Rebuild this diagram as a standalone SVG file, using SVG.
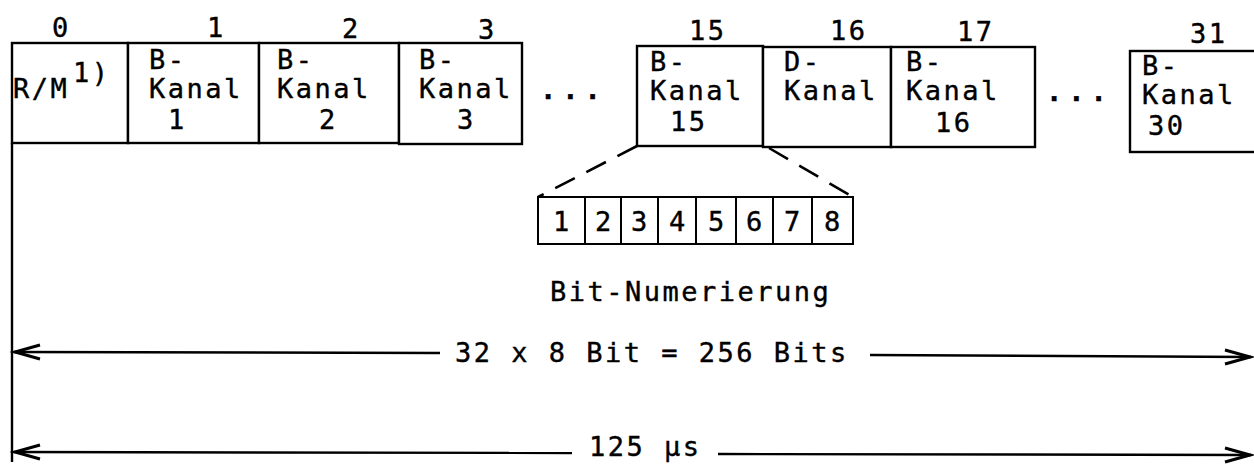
<svg xmlns="http://www.w3.org/2000/svg" width="1254" height="465" viewBox="0 0 1254 465">
<style>
text{font-family:"DejaVu Sans Mono","Liberation Mono",monospace;font-size:27px;letter-spacing:2.5px;fill:#000;stroke:#000;stroke-width:0.4}
.cell{fill:#fff;stroke:#000;stroke-width:2.4}
.bit{fill:#fff;stroke:#000;stroke-width:2}
.ln{fill:none;stroke:#000;stroke-width:2.4}
.dash{fill:none;stroke:#000;stroke-width:2.6;stroke-dasharray:22 13}
.head{fill:none;stroke:#000;stroke-width:3;stroke-linejoin:miter}
.dots{font-weight:bold;letter-spacing:6px}
</style>
<rect width="1254" height="465" fill="#fff"/>
<g id="labels">
<text x="52" y="37">0</text>
<text x="207" y="37">1</text>
<text x="342" y="38">2</text>
<text x="478" y="39">3</text>
<text x="689" y="40">15</text>
<text x="830" y="40">16</text>
<text x="957" y="41">17</text>
<text x="1190" y="43">31</text>
</g>
<g id="c0"><rect class="cell" x="12" y="43" width="116" height="100"/><text x="13" y="98">R/M</text><text x="73" y="82">1)</text></g>
<g id="c1"><rect class="cell" x="128" y="43" width="131" height="100"/><text x="149" y="69">B-</text><text x="149" y="98">Kanal</text><text x="168" y="129">1</text></g>
<g id="c2"><rect class="cell" x="259" y="43" width="140" height="100"/><text x="277" y="69">B-</text><text x="277" y="98">Kanal</text><text x="319" y="129">2</text></g>
<g id="c3"><rect class="cell" x="399" y="43" width="123" height="101"/><text x="419" y="69">B-</text><text x="419" y="98">Kanal</text><text x="457" y="129">3</text></g>
<g id="ell1"><text class="dots" x="540" y="99">...</text></g>
<g id="c15"><rect class="cell" x="637" y="46" width="126" height="100"/><text x="650" y="71">B-</text><text x="650" y="100">Kanal</text><text x="670" y="131">15</text></g>
<g id="c16"><rect class="cell" x="763" y="47" width="128" height="100"/><text x="784" y="71">D-</text><text x="784" y="100">Kanal</text></g>
<g id="c17"><rect class="cell" x="891" y="47" width="144" height="100"/><text x="906" y="71">B-</text><text x="906" y="100">Kanal</text><text x="935" y="132">16</text></g>
<g id="ell2"><text class="dots" x="1046" y="101">...</text></g>
<g id="c31"><rect class="cell" x="1130" y="51" width="140" height="101"/><text x="1142" y="75">B-</text><text x="1142" y="104">Kanal</text><text x="1148" y="135">30</text></g>
<g id="bits">
<rect class="bit" x="538" y="197" width="47" height="47"/><text x="553" y="231">1</text>
<rect class="bit" x="585" y="197" width="36" height="47"/><text x="595" y="231">2</text>
<rect class="bit" x="621" y="197" width="37" height="47"/><text x="631" y="231">3</text>
<rect class="bit" x="658" y="197" width="38" height="47"/><text x="669" y="231">4</text>
<rect class="bit" x="696" y="197" width="40" height="47"/><text x="708" y="231">5</text>
<rect class="bit" x="736" y="197" width="37" height="47"/><text x="746" y="231">6</text>
<rect class="bit" x="773" y="197" width="39" height="47"/><text x="784" y="231">7</text>
<rect class="bit" x="812" y="197" width="41" height="47"/><text x="824" y="231">8</text>
<text x="550" y="301">Bit-Numerierung</text>
</g>
<g id="connectors">
<path class="dash" d="M637,146 L538,197"/>
<path class="dash" d="M769,148 L853,197"/>
<path class="ln" d="M12,143 V462"/>
<path class="ln" d="M14,352 L440,353"/>
<path class="ln" d="M870,355 L1251,357"/>
<path class="head" d="M40,345 L15,352 L40,359"/>
<path class="head" d="M1225,350 L1250,357 L1225,364"/>
<path class="ln" d="M14,452 L572,453"/>
<path class="ln" d="M718,454 L1251,455"/>
<path class="head" d="M40,445 L15,452 L40,459"/>
<path class="head" d="M1225,448 L1250,455 L1225,462"/>
</g>
<g id="dimlabels">
<text x="455" y="362">32 x 8 Bit = 256 Bits</text>
<text x="589" y="456">125 µs</text>
</g>
</svg>
